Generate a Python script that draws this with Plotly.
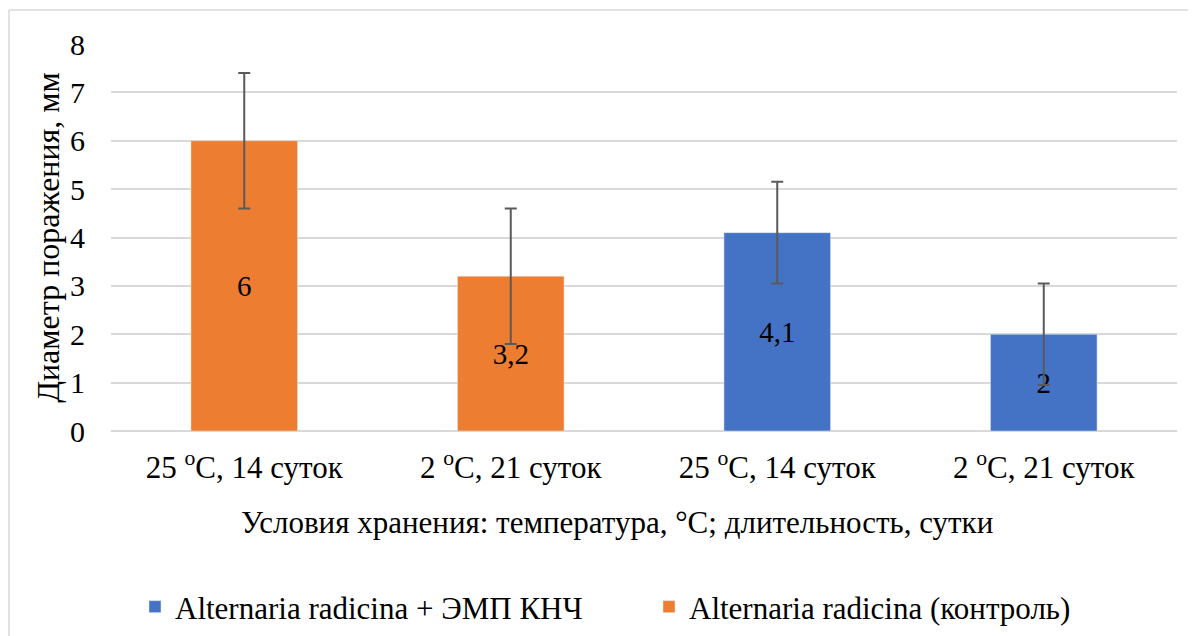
import plotly.graph_objects as go

categories = ["25 <sup>o</sup>C, 14 суток", "2 <sup>o</sup>C, 21 суток",
              "25 <sup>o</sup>C, 14 суток", "2 <sup>o</sup>C, 21 суток"]
series_names = ["Alternaria radicina + ЭМП КНЧ", "Alternaria radicina (контроль)"]
control_idx = [0, 1]
control_vals = [6, 3.2]
control_err = [1.4, 1.4]
emp_idx = [2, 3]
emp_vals = [4.1, 2]
emp_err = [1.05, 1.05]
y_ticks = [0, 1, 2, 3, 4, 5, 6, 7, 8]
x_title = "Условия хранения: температура, °С; длительность, сутки"
y_title = "Диаметр поражения, мм"

FONT = "Liberation Serif"
BLUE = "#4472C4"
ORANGE = "#ED7D31"
OX, OY = 9, 8  # page offset of the figure in the browser
W, H = 1196 - OX, 636 - OY
L, R, T, B = 112 - OX, 18, 44 - OY, 205
PW, PH = W - L - R, H - T - B

def fmt(v):
    return str(v).replace(".", ",")

def px(xp):
    return (xp - OX - L) / PW

def py(yp):
    return (OY + H - B - yp) / PH

fig = go.Figure()
err_style = dict(type="data", thickness=2, width=6, color="#5a5a5a")
fig.add_trace(go.Bar(
    x=emp_idx, y=emp_vals, name=series_names[0], marker_color=BLUE,
    width=0.4, text=[fmt(v) for v in emp_vals], textposition="inside",
    insidetextanchor="middle", textfont=dict(family=FONT, size=29, color="black"),
    error_y=dict(array=emp_err, **err_style),
))
fig.add_trace(go.Bar(
    x=control_idx, y=control_vals, name=series_names[1], marker_color=ORANGE,
    width=0.4, text=[fmt(v) for v in control_vals], textposition="inside",
    insidetextanchor="middle", textfont=dict(family=FONT, size=29, color="black"),
    error_y=dict(array=control_err, **err_style),
))

fig.update_layout(
    width=W, height=H,
    margin=dict(l=L, r=R, t=T, b=B, autoexpand=False),
    paper_bgcolor="white", plot_bgcolor="white",
    barmode="overlay",
    font=dict(family=FONT, size=30, color="black"),
    showlegend=True,
    legend=dict(orientation="h", x=px(136), xanchor="left", y=py(607), yanchor="middle",
                font=dict(family=FONT, size=31, color="black"),
                traceorder="normal", entrywidth=469, entrywidthmode="pixels"),
    uniformtext=dict(mode=False),
    annotations=[
        dict(text=x_title, xref="paper", yref="paper", x=px(618), y=py(522),
             xanchor="center", yanchor="middle", showarrow=False,
             font=dict(family=FONT, size=31, color="black")),
    ],
    shapes=[
        dict(type="line", xref="paper", yref="paper", x0=px(10), x1=px(1200), y0=py(10), y1=py(10),
             line=dict(color="#d9d9d9", width=1.5)),
        dict(type="line", xref="paper", yref="paper", x0=px(10), x1=px(10), y0=py(10), y1=py(640),
             line=dict(color="#d9d9d9", width=1.5)),
    ],
)
fig.update_xaxes(
    range=[-0.5, 3.5], tickmode="array", tickvals=list(range(len(categories))),
    ticktext=categories, showgrid=False, zeroline=False, showline=False,
    ticks="", tickfont=dict(family=FONT, size=31, color="black"), automargin=False,
    ticklabelstandoff=15,
)
fig.update_yaxes(
    range=[0, 8], tickmode="array", tickvals=y_ticks, showgrid=True,
    gridcolor="#d9d9d9", gridwidth=1.5, zeroline=True, zerolinecolor="#d9d9d9",
    zerolinewidth=1.5, showline=False, ticks="", automargin=False,
    tickfont=dict(family=FONT, size=30, color="black"), ticklabelstandoff=25,
    title=dict(text=y_title, font=dict(family=FONT, size=32, color="black"),
               standoff=0),
)

fig.write_html("out.html")
